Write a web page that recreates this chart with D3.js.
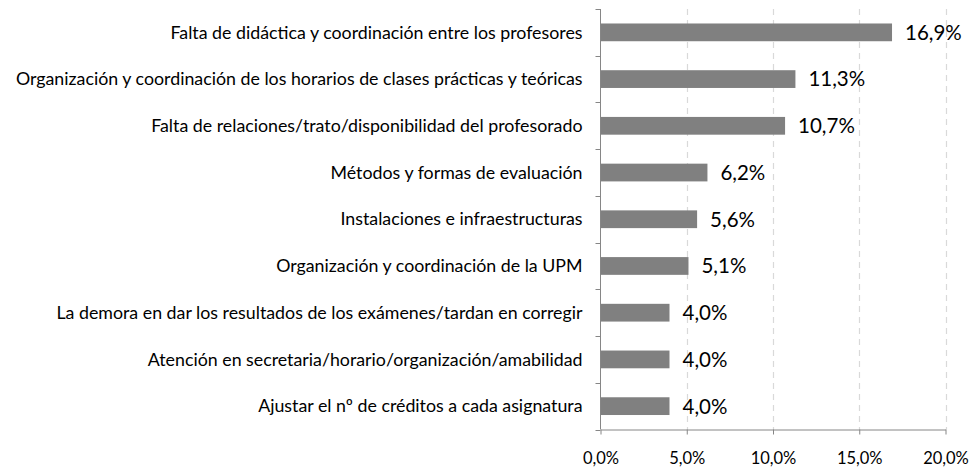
<!DOCTYPE html>
<html>
<head>
<meta charset="utf-8">
<script src="https://cdn.jsdelivr.net/npm/d3@7"></script>
<style>
  html, body { margin: 0; padding: 0; background: #ffffff; }
  svg { display: block; }
</style>
</head>
<body>
<svg id="chart" width="971" height="470"></svg>
<script>
// Motivos de insatisfacción (porcentaje de respuestas)
const categories = [
  "Falta de didáctica y coordinación entre los profesores",
  "Organización y coordinación de los horarios de clases prácticas y teóricas",
  "Falta de relaciones/trato/disponibilidad del profesorado",
  "Métodos y formas de evaluación",
  "Instalaciones e infraestructuras",
  "Organización y coordinación de la UPM",
  "La demora en dar los resultados de los exámenes/tardan en corregir",
  "Atención en secretaria/horario/organización/amabilidad",
  "Ajustar el nº de créditos a cada asignatura"
];
const values = [16.9, 11.3, 10.7, 6.2, 5.6, 5.1, 4.0, 4.0, 4.0];
const xTicks = [0, 5, 10, 15, 20];

const fmt = v => v.toFixed(1).replace(".", ",") + "%";
const FONT = "Lato, 'Open Sans', sans-serif";

const svg = d3.select("#chart");
const margin = { left: 600.5, right: 25.5, top: 9, bottom: 40.5 };
const W = 971, H = 470;

const x = d3.scaleLinear().domain([0, 20]).range([margin.left, W - margin.right]);
const y = d3.scaleBand().domain(categories).range([margin.top, H - margin.bottom])
  .paddingInner(0.62).paddingOuter(0.31);

// dashed vertical gridlines
svg.append("g").selectAll("line").data(xTicks.slice(1)).join("line")
  .attr("x1", d => Math.round(x(d)) + 0.5).attr("x2", d => Math.round(x(d)) + 0.5)
  .attr("y1", margin.top).attr("y2", H - margin.bottom)
  .attr("stroke", "#d9d9d9").attr("stroke-width", 1.2)
  .attr("stroke-dasharray", "6,5");

// bars
svg.append("g").selectAll("rect").data(values).join("rect")
  .attr("x", x(0))
  .attr("y", (d, i) => y(categories[i]))
  .attr("width", d => x(d) - x(0))
  .attr("height", y.bandwidth())
  .attr("fill", "#808080");

// value labels
svg.append("g").selectAll("text").data(values).join("text")
  .attr("x", d => x(d) + 13)
  .attr("y", (d, i) => y(categories[i]) + y.bandwidth() / 2)
  .attr("dy", "0.36em")
  .attr("font-family", FONT)
  .attr("font-size", 20.5)
  .attr("fill", "#000")
  .text(d => fmt(d));

// y axis: line, band-edge ticks and category labels
const yBand = d3.scaleLinear().domain([0, categories.length]).range([margin.top, H - margin.bottom]);
const gy = svg.append("g").attr("transform", `translate(${margin.left},0)`);
gy.append("line").attr("x1", 0).attr("x2", 0)
  .attr("y1", margin.top).attr("y2", H - margin.bottom).attr("stroke", "#868686");
gy.selectAll("line.tk").data(d3.range(categories.length + 1)).join("line")
  .attr("class", "tk")
  .attr("x1", -5).attr("x2", 0)
  .attr("y1", d => Math.round(yBand(d)) + 0.5).attr("y2", d => Math.round(yBand(d)) + 0.5)
  .attr("stroke", "#868686");
gy.selectAll("text").data(categories).join("text")
  .attr("x", -18)
  .attr("y", d => y(d) + y.bandwidth() / 2)
  .attr("dy", "0.35em")
  .attr("text-anchor", "end")
  .attr("font-family", FONT)
  .attr("font-size", 17.8)
  .attr("fill", "#000")
  .text(d => d);

// x axis
const xAxis = d3.axisBottom(x).tickValues(xTicks).tickSize(5).tickSizeOuter(0)
  .tickPadding(18).tickFormat(d => d.toFixed(1).replace(".", ",") + "%");
const gx = svg.append("g").attr("transform", `translate(0,${H - margin.bottom})`).call(xAxis);
gx.select(".domain").attr("stroke", "#868686");
gx.selectAll(".tick line").attr("stroke", "#868686");
gx.selectAll(".tick text")
  .attr("font-family", FONT)
  .attr("font-size", 16.5).attr("fill", "#000");
</script>
</body>
</html>
